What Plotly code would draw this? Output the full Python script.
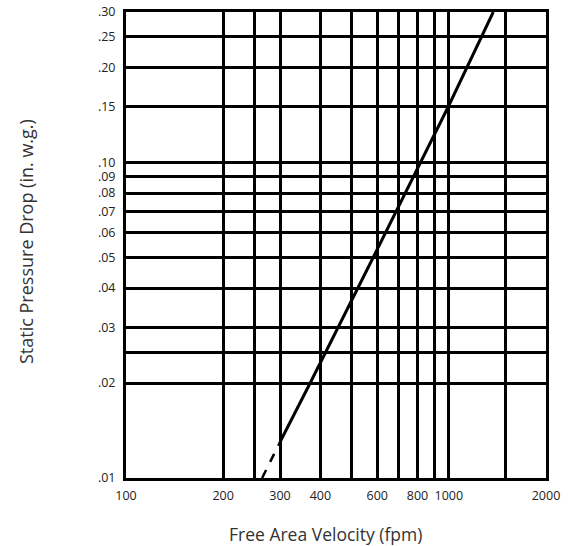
import plotly.graph_objects as go

# Data
solid_velocity = [300, 372, 583, 817, 995, 1373]
solid_pressure = [0.013, 0.02, 0.05, 0.10, 0.15, 0.30]
dash_velocity = [264, 300]
dash_pressure = [0.01, 0.013]

x_grid = [100, 200, 250, 300, 400, 500, 600, 700, 800, 900, 1000, 1500, 2000]
x_labels = ["100", "200", "", "300", "400", "", "600", "", "800", "", "1000", "", "2000"]
y_grid = [0.01, 0.02, 0.025, 0.03, 0.04, 0.05, 0.06, 0.07, 0.08, 0.09, 0.10, 0.15, 0.20, 0.25, 0.30]
y_labels = [".01", ".02", "", ".03", ".04", ".05", ".06", ".07", ".08", ".09", ".10", ".15", ".20", ".25", ".30"]

fig = go.Figure()
fig.add_trace(go.Scatter(x=dash_velocity, y=dash_pressure, mode="lines",
                         line=dict(color="black", width=2.5, dash="dash"),
                         showlegend=False, hoverinfo="skip"))
fig.add_trace(go.Scatter(x=solid_velocity, y=solid_pressure, mode="lines",
                         line=dict(color="black", width=3),
                         showlegend=False))

W, H = 568, 546
L, R, T, B = 126, 22, 12, 68
pw, ph = W - L - R, H - T - B

fig.update_layout(
    width=W, height=H,
    margin=dict(l=L, r=R, t=T, b=B),
    paper_bgcolor="white", plot_bgcolor="white",
    font=dict(family="Open Sans", color="#222", size=12),
    xaxis=dict(type="log", range=[2, 3.30103], tickvals=x_grid, ticktext=x_labels,
               showgrid=True, gridcolor="black", gridwidth=2.5,
               showline=True, linecolor="black", linewidth=3, mirror=True,
               ticks="", zeroline=False, tickfont=dict(size=12.5, color="#222"),
               ticklabelstandoff=4, automargin=False),
    yaxis=dict(type="log", range=[-2, -0.522879], tickvals=y_grid, ticktext=y_labels,
               showgrid=True, gridcolor="black", gridwidth=2.5,
               showline=True, linecolor="black", linewidth=3, mirror=True,
               ticks="", zeroline=False, tickfont=dict(size=12.5, color="#222"),
               ticklabelstandoff=5, automargin=False),
    annotations=[
        dict(text="Static Pressure Drop (in. w.g.)", xref="paper", yref="paper",
             x=(26 - L) / pw, y=(H - B - 242) / ph, xanchor="center", yanchor="middle",
             textangle=-90, showarrow=False, font=dict(size=18, color="#333")),
        dict(text="Free Area Velocity (fpm)", xref="paper", yref="paper",
             x=(325 - L) / pw, y=(H - B - 534) / ph, xanchor="center", yanchor="middle",
             showarrow=False, font=dict(size=17.5, color="#333")),
    ],
)

# remove the default page margin so the figure fills the window exactly
fig.write_html("out.html", config={"displayModeBar": False},
               post_script="document.body.style.margin='0';")
